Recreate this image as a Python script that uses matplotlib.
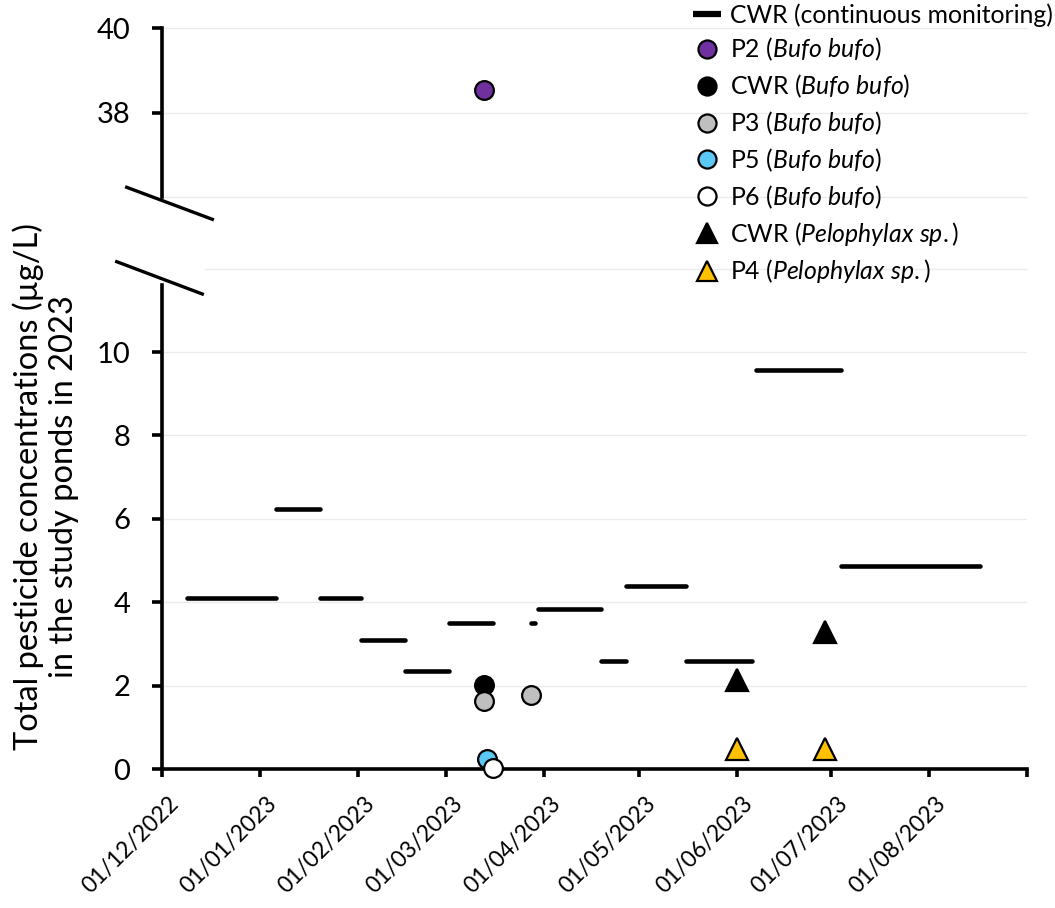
import matplotlib
matplotlib.use("Agg")
import matplotlib.pyplot as plt
import matplotlib.transforms as mtransforms
from matplotlib.lines import Line2D
from datetime import datetime

plt.rcParams['font.family'] = ['Lato', 'DejaVu Sans']
plt.rcParams['mathtext.fontset'] = 'custom'
plt.rcParams['mathtext.rm'] = 'Lato'
plt.rcParams['mathtext.it'] = 'Lato:italic'

# ---------------- data ----------------
# CWR continuous monitoring: sampling periods (start, end) and totals (µg/L)
cwr_start = ["2022-12-09", "2023-01-06", "2023-01-20", "2023-02-02", "2023-02-16",
             "2023-03-02", "2023-03-28", "2023-03-30", "2023-04-19", "2023-04-27",
             "2023-05-16", "2023-06-07", "2023-07-04"]
cwr_end = ["2023-01-06", "2023-01-20", "2023-02-02", "2023-02-16", "2023-03-02",
           "2023-03-16", "2023-03-29", "2023-04-19", "2023-04-27", "2023-05-16",
           "2023-06-06", "2023-07-04", "2023-08-17"]
cwr_value = [4.11, 6.23, 4.11, 3.09, 2.35, 3.49, 3.49, 3.84, 2.58, 4.38, 2.59, 9.57, 4.88]

p2_bufo_dates = ["2023-03-13"]
p2_bufo_vals = [38.53]
cwr_bufo_dates = ["2023-03-13"]
cwr_bufo_vals = [2.01]
p3_bufo_dates = ["2023-03-13", "2023-03-28"]
p3_bufo_vals = [1.64, 1.77]
p5_bufo_dates = ["2023-03-14"]
p5_bufo_vals = [0.23]
p6_bufo_dates = ["2023-03-16"]
p6_bufo_vals = [0.02]
cwr_pelo_dates = ["2023-06-01", "2023-06-29"]
cwr_pelo_vals = [2.13, 3.29]
p4_pelo_dates = ["2023-06-01", "2023-06-29"]
p4_pelo_vals = [0.47, 0.47]

tick_dates = ["2022-12-01", "2023-01-01", "2023-02-01", "2023-03-01", "2023-04-01",
              "2023-05-01", "2023-06-01", "2023-07-01", "2023-08-01", "2023-09-01"]
tick_labels = ["01/12/2022", "01/01/2023", "01/02/2023", "01/03/2023", "01/04/2023",
               "01/05/2023", "01/06/2023", "01/07/2023", "01/08/2023", ""]

low_ticks = [0, 2, 4, 6, 8, 10]
high_ticks = [38, 40]

ylabel = "Total pesticide concentrations (µg/L)\nin the study ponds in 2023"

def d(s):
    return datetime.strptime(s, "%Y-%m-%d")

# ---------------- figure ----------------
W, H = 1055, 908
fig = plt.figure(figsize=(W / 100, H / 100), dpi=100)

L = 162 / W
Wd = 865 / W
ax = fig.add_axes([L, 1 - 769 / H, Wd, (769 - 268.7) / H])
axt = fig.add_axes([L, 1 - 197.3 / H, Wd, (197.3 - 28.3) / H], sharex=ax)

xmin, xmax = d(tick_dates[0]), d(tick_dates[-1])
ax.set_xlim(xmin, xmax)
ax.set_ylim(0, 12)
axt.set_ylim(36, 40)

grid_c = "#ebebeb"
for yv in [2, 4, 6, 8, 10]:
    ax.axhline(yv, color=grid_c, lw=1.0, zorder=0)
ax.axhline(12, xmin=0.05, color=grid_c, lw=1.0, zorder=0, clip_on=False)
for yv in [36, 38, 40]:
    axt.axhline(yv, color=grid_c, lw=1.0, zorder=0, clip_on=False)

seg_lw = 3.3
for s, e, v in zip(cwr_start, cwr_end, cwr_value):
    ax.plot([d(s), d(e)], [v, v], color="black", lw=seg_lw, solid_capstyle="round", zorder=3)

mk = dict(linestyle="none", markeredgecolor="black", markeredgewidth=1.6, clip_on=False, zorder=5)
circ = 13.5
tri = 16
axt.plot([d(x) for x in p2_bufo_dates], p2_bufo_vals, marker="o", ms=circ, markerfacecolor="#7030a0", **mk)
ax.plot([d(x) for x in cwr_bufo_dates], cwr_bufo_vals, marker="o", ms=circ, markerfacecolor="black", **mk)
ax.plot([d(x) for x in p3_bufo_dates], p3_bufo_vals, marker="o", ms=circ, markerfacecolor="#bfbfbf", **mk)
ax.plot([d(x) for x in p5_bufo_dates], p5_bufo_vals, marker="o", ms=circ, markerfacecolor="#5bc8f5", **mk)
ax.plot([d(x) for x in p6_bufo_dates], p6_bufo_vals, marker="o", ms=circ, markerfacecolor="white", **mk)
ax.plot([d(x) for x in cwr_pelo_dates], cwr_pelo_vals, marker="^", ms=tri, markerfacecolor="black", **mk)
ax.plot([d(x) for x in p4_pelo_dates], p4_pelo_vals, marker="^", ms=tri, markerfacecolor="#ffc000", **mk)

spine_lw = 2.6
for a in (ax, axt):
    for sp in ["top", "right"]:
        a.spines[sp].set_visible(False)
    a.spines["left"].set_linewidth(spine_lw)
    a.tick_params(axis="y", length=7, width=spine_lw, labelsize=21, pad=16, direction="out")
axt.spines["bottom"].set_visible(False)
axt.tick_params(axis="x", bottom=False, labelbottom=False)
ax.spines["bottom"].set_linewidth(spine_lw)
ax.spines["left"].set_bounds(0, 11.6)

ax.set_yticks(low_ticks)
ax.set_yticklabels([str(t) for t in low_ticks])
axt.set_yticks(high_ticks)
axt.set_yticklabels([str(t) for t in high_ticks])

ax.set_xticks([d(t) for t in tick_dates])
ax.set_xticklabels(tick_labels, rotation=45, ha="right", va="top", rotation_mode="anchor", fontsize=16.5)
ax.tick_params(axis="x", length=6, width=spine_lw, pad=11, direction="out")
offset = mtransforms.ScaledTranslation(6 / 100, 0, fig.dpi_scale_trans)
for lab in ax.get_xticklabels():
    lab.set_transform(lab.get_transform() + offset)

# break marks
def fl(x0, y0, x1, y1):
    fig.add_artist(Line2D([x0 / W, x1 / W], [1 - y0 / H, 1 - y1 / H], color="black", lw=2.4,
                          transform=fig.transFigure))
fl(126.7, 187.3, 212.3, 219.3)
fl(116.7, 261.7, 202.3, 294.0)

fig.text(46 / W, 1 - 487 / H, ylabel, rotation=90, ha="center", va="center", fontsize=23.5,
         multialignment="center", linespacing=1.2)

hm = dict(markeredgecolor="black", mew=1.6, ls="none")
handles = [
    Line2D([], [], color="black", lw=4.5, solid_capstyle="butt"),
    Line2D([], [], marker="o", ms=13, markerfacecolor="#7030a0", **hm),
    Line2D([], [], marker="o", ms=13, markerfacecolor="black", **hm),
    Line2D([], [], marker="o", ms=13, markerfacecolor="#bfbfbf", **hm),
    Line2D([], [], marker="o", ms=13, markerfacecolor="#5bc8f5", **hm),
    Line2D([], [], marker="o", ms=13, markerfacecolor="white", **hm),
    Line2D([], [], marker="^", ms=14, markerfacecolor="black", **hm),
    Line2D([], [], marker="^", ms=14, markerfacecolor="#ffc000", **hm),
]
labels = [
    "CWR (continuous monitoring)",
    r"P2 ($\mathit{Bufo\ bufo}$)",
    r"CWR ($\mathit{Bufo\ bufo}$)",
    r"P3 ($\mathit{Bufo\ bufo}$)",
    r"P5 ($\mathit{Bufo\ bufo}$)",
    r"P6 ($\mathit{Bufo\ bufo}$)",
    r"CWR ($\mathit{Pelophylax\ sp.}$)",
    r"P4 ($\mathit{Pelophylax\ sp.}$)",
]
fig.legend(handles, labels, loc="upper left", bbox_to_anchor=(693 / W, 1 - 3 / H), frameon=False,
           fontsize=17.8, handlelength=1.15, handletextpad=0.35, labelspacing=0.38, borderpad=0,
           borderaxespad=0)

fig.savefig("out.png", dpi=100)
